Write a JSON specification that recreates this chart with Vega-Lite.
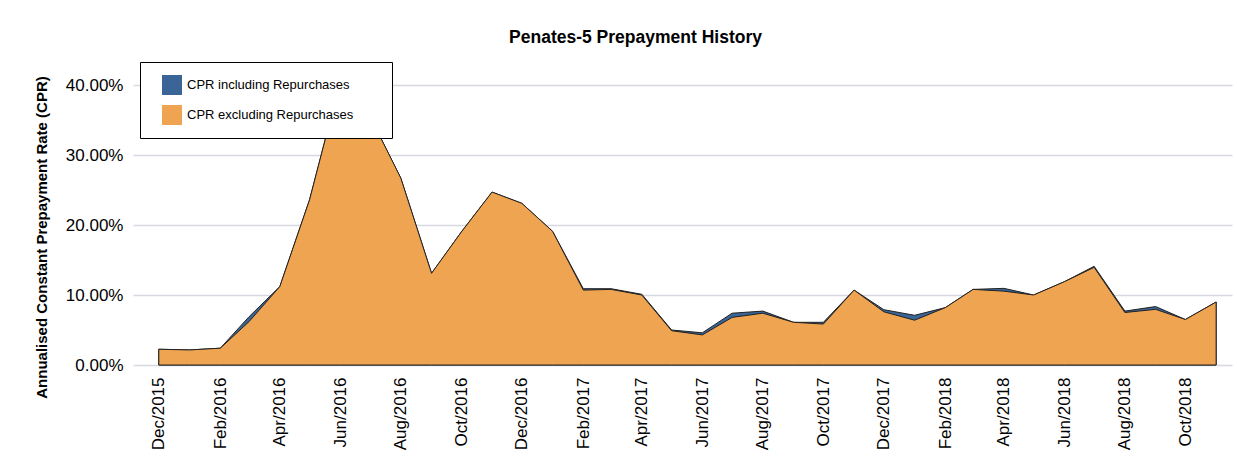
{
  "$schema": "https://vega.github.io/schema/vega-lite/v6.json",
  "autosize": "none",
  "width": 1099,
  "height": 301,
  "padding": {"left": 133, "top": 64, "right": 5, "bottom": 95},
  "background": "white",
  "config": {
    "font": "Liberation Sans",
    "view": {"stroke": null}
  },
  "title": {
    "text": "Penates-5 Prepayment History",
    "fontSize": 17.5,
    "fontWeight": "bold",
    "color": "black",
    "anchor": "middle",
    "dx": -47,
    "offset": 15
  },
  "data": {
    "values": [
      {"date": "2015-12-01T00:00:00", "series": "CPR including Repurchases", "cpr": 0.0225},
      {"date": "2016-01-01T00:00:00", "series": "CPR including Repurchases", "cpr": 0.0215},
      {"date": "2016-02-01T00:00:00", "series": "CPR including Repurchases", "cpr": 0.024},
      {"date": "2016-03-01T00:00:00", "series": "CPR including Repurchases", "cpr": 0.069},
      {"date": "2016-04-01T00:00:00", "series": "CPR including Repurchases", "cpr": 0.112},
      {"date": "2016-05-01T00:00:00", "series": "CPR including Repurchases", "cpr": 0.236},
      {"date": "2016-06-01T00:00:00", "series": "CPR including Repurchases", "cpr": 0.405},
      {"date": "2016-07-01T00:00:00", "series": "CPR including Repurchases", "cpr": 0.355},
      {"date": "2016-08-01T00:00:00", "series": "CPR including Repurchases", "cpr": 0.267},
      {"date": "2016-09-01T00:00:00", "series": "CPR including Repurchases", "cpr": 0.131},
      {"date": "2016-10-01T00:00:00", "series": "CPR including Repurchases", "cpr": 0.19},
      {"date": "2016-11-01T00:00:00", "series": "CPR including Repurchases", "cpr": 0.247},
      {"date": "2016-12-01T00:00:00", "series": "CPR including Repurchases", "cpr": 0.231},
      {"date": "2017-01-01T00:00:00", "series": "CPR including Repurchases", "cpr": 0.191},
      {"date": "2017-02-01T00:00:00", "series": "CPR including Repurchases", "cpr": 0.109},
      {"date": "2017-03-01T00:00:00", "series": "CPR including Repurchases", "cpr": 0.109},
      {"date": "2017-04-01T00:00:00", "series": "CPR including Repurchases", "cpr": 0.101},
      {"date": "2017-05-01T00:00:00", "series": "CPR including Repurchases", "cpr": 0.05},
      {"date": "2017-06-01T00:00:00", "series": "CPR including Repurchases", "cpr": 0.046},
      {"date": "2017-07-01T00:00:00", "series": "CPR including Repurchases", "cpr": 0.074},
      {"date": "2017-08-01T00:00:00", "series": "CPR including Repurchases", "cpr": 0.077},
      {"date": "2017-09-01T00:00:00", "series": "CPR including Repurchases", "cpr": 0.061},
      {"date": "2017-10-01T00:00:00", "series": "CPR including Repurchases", "cpr": 0.061},
      {"date": "2017-11-01T00:00:00", "series": "CPR including Repurchases", "cpr": 0.107},
      {"date": "2017-12-01T00:00:00", "series": "CPR including Repurchases", "cpr": 0.079},
      {"date": "2018-01-01T00:00:00", "series": "CPR including Repurchases", "cpr": 0.071},
      {"date": "2018-02-01T00:00:00", "series": "CPR including Repurchases", "cpr": 0.082},
      {"date": "2018-03-01T00:00:00", "series": "CPR including Repurchases", "cpr": 0.108},
      {"date": "2018-04-01T00:00:00", "series": "CPR including Repurchases", "cpr": 0.1095},
      {"date": "2018-05-01T00:00:00", "series": "CPR including Repurchases", "cpr": 0.1},
      {"date": "2018-06-01T00:00:00", "series": "CPR including Repurchases", "cpr": 0.119},
      {"date": "2018-07-01T00:00:00", "series": "CPR including Repurchases", "cpr": 0.141},
      {"date": "2018-08-01T00:00:00", "series": "CPR including Repurchases", "cpr": 0.077},
      {"date": "2018-09-01T00:00:00", "series": "CPR including Repurchases", "cpr": 0.0835},
      {"date": "2018-10-01T00:00:00", "series": "CPR including Repurchases", "cpr": 0.065},
      {"date": "2018-11-01T00:00:00", "series": "CPR including Repurchases", "cpr": 0.09},
      {"date": "2015-12-01T00:00:00", "series": "CPR excluding Repurchases", "cpr": 0.0225},
      {"date": "2016-01-01T00:00:00", "series": "CPR excluding Repurchases", "cpr": 0.0215},
      {"date": "2016-02-01T00:00:00", "series": "CPR excluding Repurchases", "cpr": 0.024},
      {"date": "2016-03-01T00:00:00", "series": "CPR excluding Repurchases", "cpr": 0.062},
      {"date": "2016-04-01T00:00:00", "series": "CPR excluding Repurchases", "cpr": 0.112},
      {"date": "2016-05-01T00:00:00", "series": "CPR excluding Repurchases", "cpr": 0.236},
      {"date": "2016-06-01T00:00:00", "series": "CPR excluding Repurchases", "cpr": 0.405},
      {"date": "2016-07-01T00:00:00", "series": "CPR excluding Repurchases", "cpr": 0.355},
      {"date": "2016-08-01T00:00:00", "series": "CPR excluding Repurchases", "cpr": 0.267},
      {"date": "2016-09-01T00:00:00", "series": "CPR excluding Repurchases", "cpr": 0.131},
      {"date": "2016-10-01T00:00:00", "series": "CPR excluding Repurchases", "cpr": 0.19},
      {"date": "2016-11-01T00:00:00", "series": "CPR excluding Repurchases", "cpr": 0.247},
      {"date": "2016-12-01T00:00:00", "series": "CPR excluding Repurchases", "cpr": 0.231},
      {"date": "2017-01-01T00:00:00", "series": "CPR excluding Repurchases", "cpr": 0.191},
      {"date": "2017-02-01T00:00:00", "series": "CPR excluding Repurchases", "cpr": 0.107},
      {"date": "2017-03-01T00:00:00", "series": "CPR excluding Repurchases", "cpr": 0.108},
      {"date": "2017-04-01T00:00:00", "series": "CPR excluding Repurchases", "cpr": 0.1},
      {"date": "2017-05-01T00:00:00", "series": "CPR excluding Repurchases", "cpr": 0.049},
      {"date": "2017-06-01T00:00:00", "series": "CPR excluding Repurchases", "cpr": 0.043},
      {"date": "2017-07-01T00:00:00", "series": "CPR excluding Repurchases", "cpr": 0.068},
      {"date": "2017-08-01T00:00:00", "series": "CPR excluding Repurchases", "cpr": 0.074},
      {"date": "2017-09-01T00:00:00", "series": "CPR excluding Repurchases", "cpr": 0.061},
      {"date": "2017-10-01T00:00:00", "series": "CPR excluding Repurchases", "cpr": 0.0585},
      {"date": "2017-11-01T00:00:00", "series": "CPR excluding Repurchases", "cpr": 0.107},
      {"date": "2017-12-01T00:00:00", "series": "CPR excluding Repurchases", "cpr": 0.076},
      {"date": "2018-01-01T00:00:00", "series": "CPR excluding Repurchases", "cpr": 0.064},
      {"date": "2018-02-01T00:00:00", "series": "CPR excluding Repurchases", "cpr": 0.082},
      {"date": "2018-03-01T00:00:00", "series": "CPR excluding Repurchases", "cpr": 0.108},
      {"date": "2018-04-01T00:00:00", "series": "CPR excluding Repurchases", "cpr": 0.1055},
      {"date": "2018-05-01T00:00:00", "series": "CPR excluding Repurchases", "cpr": 0.1},
      {"date": "2018-06-01T00:00:00", "series": "CPR excluding Repurchases", "cpr": 0.119},
      {"date": "2018-07-01T00:00:00", "series": "CPR excluding Repurchases", "cpr": 0.1395},
      {"date": "2018-08-01T00:00:00", "series": "CPR excluding Repurchases", "cpr": 0.075},
      {"date": "2018-09-01T00:00:00", "series": "CPR excluding Repurchases", "cpr": 0.0795},
      {"date": "2018-10-01T00:00:00", "series": "CPR excluding Repurchases", "cpr": 0.065},
      {"date": "2018-11-01T00:00:00", "series": "CPR excluding Repurchases", "cpr": 0.09}
    ]
  },
  "encoding": {
    "x": {
      "field": "date",
      "type": "temporal",
      "scale": {
        "domain": [
          {"year": 2015, "month": 11, "date": 5},
          {"year": 2018, "month": 11, "date": 17}
        ]
      },
      "axis": {
        "title": null,
        "format": "%b/%Y",
        "values": [
          {"year": 2015, "month": 12, "date": 1},
          {"year": 2016, "month": 2, "date": 1},
          {"year": 2016, "month": 4, "date": 1},
          {"year": 2016, "month": 6, "date": 1},
          {"year": 2016, "month": 8, "date": 1},
          {"year": 2016, "month": 10, "date": 1},
          {"year": 2016, "month": 12, "date": 1},
          {"year": 2017, "month": 2, "date": 1},
          {"year": 2017, "month": 4, "date": 1},
          {"year": 2017, "month": 6, "date": 1},
          {"year": 2017, "month": 8, "date": 1},
          {"year": 2017, "month": 10, "date": 1},
          {"year": 2017, "month": 12, "date": 1},
          {"year": 2018, "month": 2, "date": 1},
          {"year": 2018, "month": 4, "date": 1},
          {"year": 2018, "month": 6, "date": 1},
          {"year": 2018, "month": 8, "date": 1},
          {"year": 2018, "month": 10, "date": 1}
        ],
        "labelAngle": -90,
        "labelFontSize": 17,
        "labelColor": "black",
        "labelPadding": 12,
        "labelFlush": false,
        "labelOverlap": false,
        "grid": false,
        "ticks": false,
        "domain": false
      }
    },
    "y": {
      "field": "cpr",
      "type": "quantitative",
      "scale": {"domain": [0, 0.43], "nice": false},
      "axis": {
        "title": "Annualised Constant Prepayment Rate (CPR)",
        "titleFontSize": 15,
        "titleFontWeight": "bold",
        "titleColor": "black",
        "titlePadding": 16,
        "titleY": 173,
        "format": ".2%",
        "values": [0, 0.1, 0.2, 0.3, 0.4],
        "labelFontSize": 17,
        "labelColor": "black",
        "labelPadding": 10,
        "ticks": false,
        "domain": false,
        "grid": true,
        "gridColor": "#d8d8e2",
        "gridWidth": 1.5
      }
    },
    "color": {
      "field": "series",
      "type": "nominal",
      "scale": {
        "domain": ["CPR including Repurchases", "CPR excluding Repurchases"],
        "range": ["#3a6596", "#efa452"]
      },
      "legend": {
        "title": null,
        "orient": "none",
        "legendX": 7,
        "legendY": -2,
        "strokeColor": "black",
        "fillColor": "white",
        "padding": 13,
        "symbolType": "square",
        "symbolSize": 400,
        "symbolStrokeWidth": 0,
        "symbolOpacity": 1,
        "symbolOffset": 9,
        "rowPadding": 10,
        "labelFontSize": 13,
        "labelColor": "black",
        "labelOffset": 5,
        "labelLimit": 400,
        "labelExpr": "datum.label + '\u00a0\u00a0\u00a0\u00a0\u00a0\u00a0\u00a0\u200b'"
      }
    }
  },
  "layer": [
    {
      "transform": [{"filter": "datum.series === 'CPR including Repurchases'"}],
      "mark": {"type": "area", "stroke": "#222222", "strokeWidth": 1, "opacity": 1}
    },
    {
      "transform": [{"filter": "datum.series === 'CPR excluding Repurchases'"}],
      "mark": {"type": "area", "stroke": "#222222", "strokeWidth": 1, "opacity": 1}
    }
  ]
}
